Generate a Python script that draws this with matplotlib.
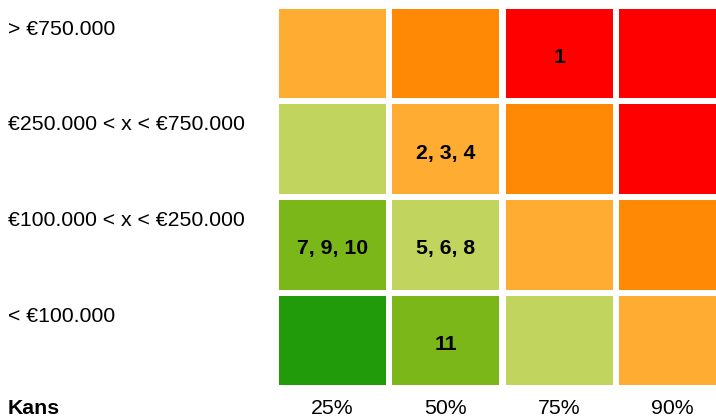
import matplotlib.pyplot as plt
from matplotlib.patches import Rectangle
from matplotlib.transforms import blended_transform_factory

plt.rcParams['font.family'] = ['Liberation Sans', 'DejaVu Sans']

# impact rows (top to bottom) and probability columns
impact_labels = ['> €750.000', '€250.000 < x < €750.000',
                 '€100.000 < x < €250.000', '< €100.000']
kans_labels = ['25%', '50%', '75%', '90%']

# risk level per cell, 0 = lowest
levels = [[3, 4, 5, 5],
          [2, 3, 4, 5],
          [1, 2, 3, 4],
          [0, 1, 2, 3]]
level_colors = ['#219b0a', '#7bb719', '#c1d45d', '#ffac33', '#ff8805', '#ff0000']

# risk numbers placed in cells
cell_text = [['', '', '1', ''],
             ['', '2, 3, 4', '', ''],
             ['7, 9, 10', '5, 6, 8', '', ''],
             ['', '11', '', '']]

W, H = 716, 419
fs = 15.3
fig = plt.figure(figsize=(W / 100, H / 100), dpi=100)

col_pitch, row_pitch = 113.3, 95.5
cw = 107 / col_pitch
ch = 89.5 / row_pitch
left_px, top_px = 279, 9
ax = fig.add_axes([left_px / W, 1 - (top_px + 4 * row_pitch) / H,
                   4 * col_pitch / W, 4 * row_pitch / H])
ax.set_xlim(0, 4)
ax.set_ylim(4, 0)
ax.axis('off')

for r in range(4):
    for c in range(4):
        ax.add_patch(Rectangle((c, r), cw, ch, facecolor=level_colors[levels[r][c]],
                               edgecolor='none'))
        if cell_text[r][c]:
            ax.text(c + cw / 2, r + ch / 2 + 0.04, cell_text[r][c], ha='center',
                    va='center', fontsize=fs, fontweight='bold', color='black')

trans = blended_transform_factory(fig.transFigure, ax.transData)
for r, lab in enumerate(impact_labels):
    ax.text(8 / W, r + 20.5 / row_pitch, lab, transform=trans, ha='left',
            va='center', fontsize=fs, color='black')

xtrans = blended_transform_factory(ax.transData, fig.transFigure)
for c, lab in enumerate(kans_labels):
    ax.text(c + cw / 2, 1 - 408 / H, lab, transform=xtrans,
            ha='center', va='center', fontsize=fs, color='black')

fig.text(8 / W, 1 - 408 / H, 'Kans', ha='left', va='center', fontsize=fs,
         fontweight='bold', color='black')

fig.savefig('out.png', dpi=100)
